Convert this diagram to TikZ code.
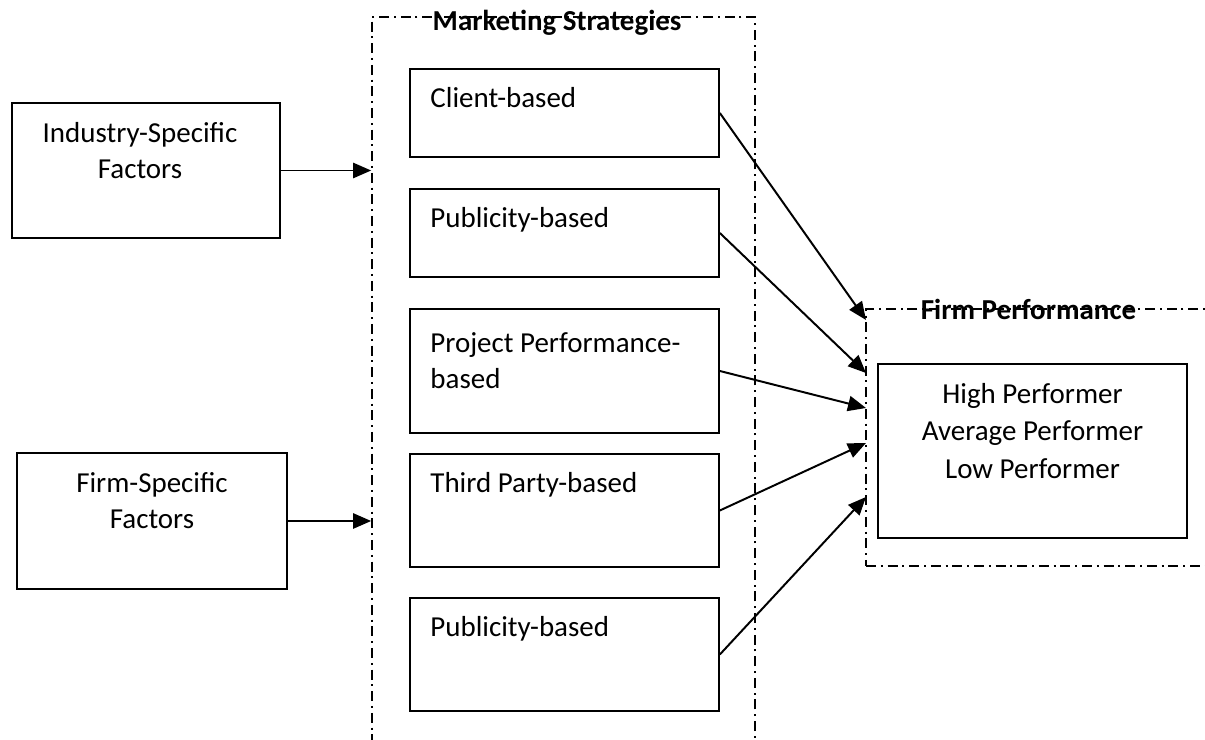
\documentclass[tikz,border=0pt]{standalone}
\usepackage{fontspec}
\setmainfont{Carlito}
\usetikzlibrary{arrows.meta,positioning}

\tikzset{
	box/.style={draw, rectangle, line width=1.2pt, inner sep=0pt},
	frame/.style={draw, rectangle, line width=1.2pt, inner sep=0pt, dash pattern=on 0.25cm off 0.12cm on 0.05cm off 0.12cm},
	txt/.style={inner sep=0pt, font=\fontsize{20.6}{25.5}\selectfont},
	heading/.style={inner sep=0pt, font=\fontsize{20.6}{25.5}\selectfont\bfseries},
	link/.style={line width=1.4pt, -{Triangle[length=0.45cm,width=0.38cm]}}
}

\begin{document}
\begin{tikzpicture}
				\useasboundingbox (0,0) rectangle (30.125,18.5);
				\clip (0,0) rectangle (30.125,18.5);
				% groups (both run off the page)
				\node[frame, minimum width=9.575cm, minimum height=19.075cm] (mkt) at (14.0875,8.5375) {};
				\node[frame, minimum width=9.85cm, minimum height=6.425cm] (perf) at (26.575,7.5625) {};
				\node[heading, anchor=base] at ([xshift=-0.16cm,yshift=-0.37cm]mkt.north) {Marketing Strategies};
				\node[heading, anchor=base] at ([xshift=-0.86cm,yshift=-0.28cm]perf.north) {Firm Performance};
				% factors on the left
				\node[box, minimum width=6.7cm, minimum height=3.375cm] (ind) at (3.65,14.2375) {};
				\node[box, minimum width=6.75cm, minimum height=3.4cm] (firm) at (3.8,5.475) {};
				\node[txt, align=center, anchor=north] at ([xshift=-0.15cm,yshift=-0.5cm]ind.north) {Industry-Specific\\Factors};
				\node[txt, align=center, anchor=north] at ([yshift=-0.5cm]firm.north) {Firm-Specific\\Factors};
				% strategies
				\node[box, minimum width=7.725cm, minimum height=2.2cm] (s1) at (14.1125,15.675) {};
				\node[box, minimum width=7.725cm, minimum height=2.2cm] (s2) at (14.1125,12.675) {};
				\node[box, minimum width=7.725cm, minimum height=3.1cm] (s3) at (14.1125,9.225) {};
				\node[box, minimum width=7.725cm, minimum height=2.825cm] (s4) at (14.1125,5.7375) {};
				\node[box, minimum width=7.725cm, minimum height=2.825cm] (s5) at (14.1125,2.1375) {};
				\node[txt, anchor=base west] at ([xshift=0.525cm,yshift=-0.975cm]s1.north west) {Client-based};
				\node[txt, anchor=base west] at ([xshift=0.525cm,yshift=-0.975cm]s2.north west) {Publicity-based};
				\node[txt, align=left, anchor=north west] at ([xshift=0.525cm,yshift=-0.6cm]s3.north west) {Project Performance-\\based};
				\node[txt, anchor=base west] at ([xshift=0.525cm,yshift=-0.975cm]s4.north west) {Third Party-based};
				\node[txt, anchor=base west] at ([xshift=0.525cm,yshift=-0.975cm]s5.north west) {Publicity-based};
				% performance levels
				\node[box, minimum width=7.725cm, minimum height=4.35cm] (levels) at (25.8125,7.225) {};
				\node[txt, align=center, anchor=north, font=\fontsize{20.6}{26.5}\selectfont] at ([yshift=-0.5cm]levels.north) {High Performer\\Average Performer\\Low Performer};
				% arrows
				\draw[link] (ind.east) -- (ind.east -| mkt.west);
				\draw[link] (firm.east) -- (firm.east -| mkt.west);
				\coordinate (t1) at (21.65,10.5);
				\coordinate (t2) at (21.65,9.175);
				\coordinate (t3) at (21.65,8.3);
				\coordinate (t4) at (21.65,7.425);
				\coordinate (t5) at (21.65,6.075);
				\draw[link] (s1.east) -- (t1);
				\draw[link] (s2.east) -- (t2);
				\draw[link] (s3.east) -- (t3);
				\draw[link] (s4.east) -- (t4);
				\draw[link] (s5.east) -- (t5);
\end{tikzpicture}
\end{document}
